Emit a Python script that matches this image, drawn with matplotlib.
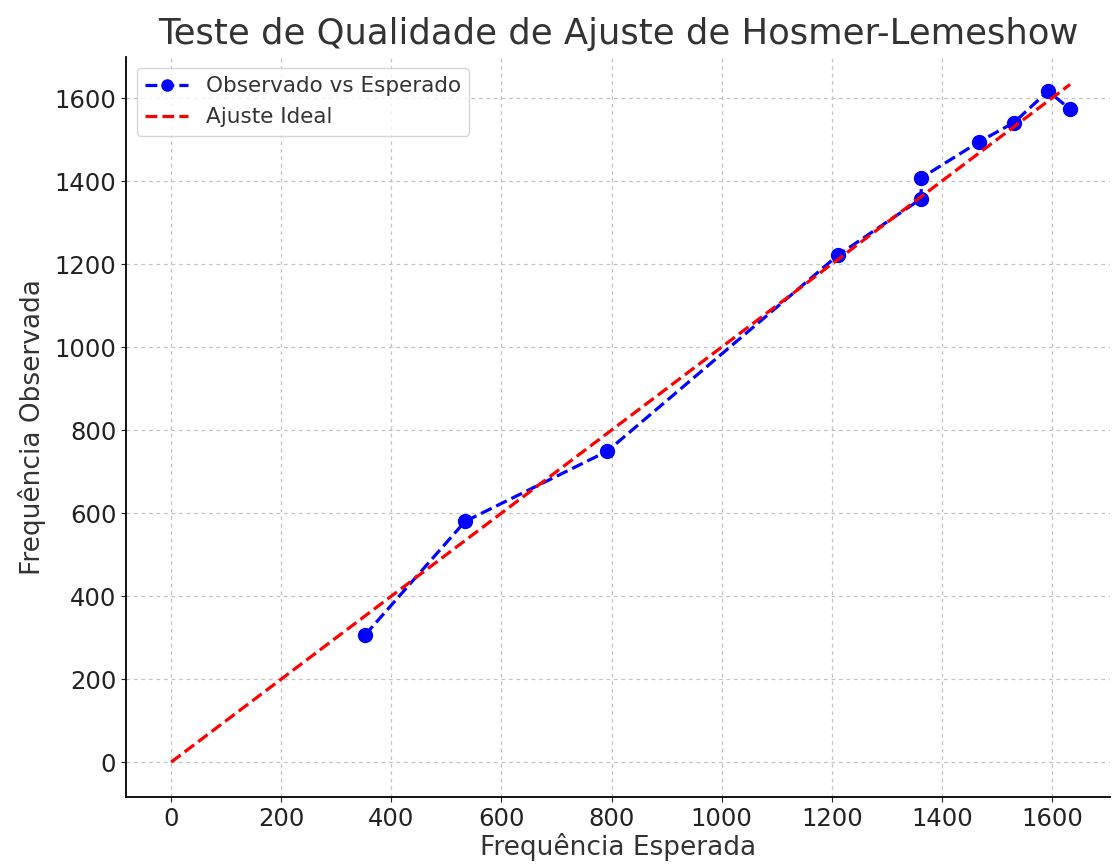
import matplotlib
matplotlib.use('Agg')
import matplotlib.pyplot as plt

esperado = [352, 534, 792, 1211, 1362, 1363, 1467, 1531, 1593, 1633]
observado = [306, 580, 749, 1221, 1357, 1408, 1494, 1541, 1617, 1573]


def main():
    fig = plt.figure(figsize=(11.12, 8.66), dpi=100)
    ax = fig.add_axes([0.1133, 0.0797, 0.8847, 0.8545])

    ax.plot(esperado, observado, 'o--', color='blue', linewidth=2.3,
            markersize=10, label='Observado vs Esperado')
    lim = max(esperado)
    ax.plot([0, lim], [0, lim], '--', color='red', linewidth=2.3,
            label='Ajuste Ideal')

    ax.set_xlim(-82, 1705)
    ax.set_ylim(-84, 1699)
    ax.set_xticks(range(0, 1601, 200))
    ax.set_yticks(range(0, 1601, 200))
    ax.tick_params(labelsize=17.5, colors='#222222')
    ax.set_xlabel('Frequência Esperada', fontsize=19, color='#333333',
                  labelpad=2)
    ax.set_ylabel('Frequência Observada', fontsize=19, color='#333333',
                  labelpad=6)
    ax.set_title('Teste de Qualidade de Ajuste de Hosmer-Lemeshow',
                 fontsize=25.5, color='#333333', pad=9)
    ax.grid(True, linestyle=(0, (3, 3)), color='#c4c4c4', linewidth=0.9)
    ax.spines['top'].set_visible(False)
    ax.spines['right'].set_visible(False)
    ax.spines['left'].set_linewidth(1.3)
    ax.spines['bottom'].set_linewidth(1.3)
    leg = ax.legend(loc='upper left', fontsize=15.5, markerscale=0.8)
    for t in leg.get_texts():
        t.set_color('#333333')

    fig.savefig('out.png', dpi=100)


if __name__ == '__main__':
    main()
